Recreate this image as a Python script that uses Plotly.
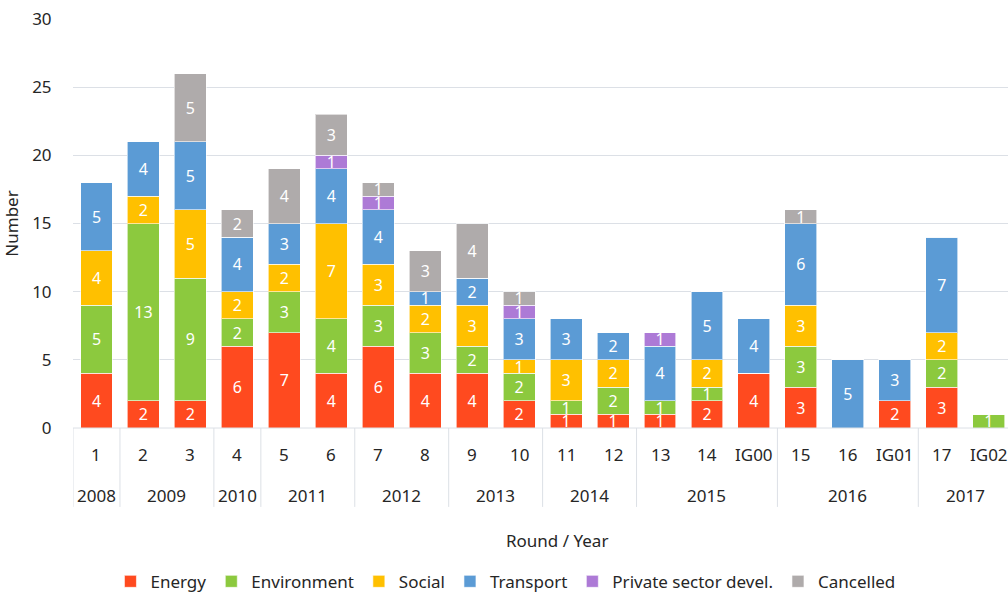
import plotly.graph_objects as go

years = ["2008", "2009", "2009", "2010", "2011", "2011", "2012", "2012", "2013", "2013",
         "2014", "2014", "2015", "2015", "2015", "2016", "2016", "2016", "2017", "2017"]
rounds = ["1", "2", "3", "4", "5", "6", "7", "8", "9", "10",
          "11", "12", "13", "14", "IG00", "15", "16", "IG01", "17", "IG02"]

energy      = [4, 2, 2, 6, 7, 4, 6, 4, 4, 2, 1, 1, 1, 2, 4, 3, 0, 2, 3, 0]
environment = [5, 13, 9, 2, 3, 4, 3, 3, 2, 2, 1, 2, 1, 1, 0, 3, 0, 0, 2, 1]
social      = [4, 2, 5, 2, 2, 7, 3, 2, 3, 1, 3, 2, 0, 2, 0, 3, 0, 0, 2, 0]
transport   = [5, 4, 5, 4, 3, 4, 4, 1, 2, 3, 3, 2, 4, 5, 4, 6, 5, 3, 7, 0]
private     = [0, 0, 0, 0, 0, 1, 1, 0, 0, 1, 0, 0, 1, 0, 0, 0, 0, 0, 0, 0]
cancelled   = [0, 0, 5, 2, 4, 3, 1, 3, 4, 1, 0, 0, 0, 0, 0, 1, 0, 0, 0, 0]

series = [
    ("Energy", energy, "#FF4A1F"),
    ("Environment", environment, "#8CC93E"),
    ("Social", social, "#FFC000"),
    ("Transport", transport, "#5B9BD5"),
    ("Private sector devel.", private, "#AD7AD6"),
    ("Cancelled", cancelled, "#AFABAB"),
]

FONT = "Noto Sans"
TXT = "#262626"
GRID = "#DCE0E6"
xs = list(range(len(rounds)))

fig = go.Figure()
for name, vals, color in series:
    fig.add_trace(go.Bar(
        x=xs, y=vals, name=name,
        marker=dict(color=color, line=dict(color="rgba(255,255,255,0.6)", width=1)),
        text=[str(v) if v else "" for v in vals],
        textposition="inside", insidetextanchor="middle", textangle=0,
        textfont=dict(color="white", size=16, family=FONT),
        constraintext="none",
    ))

annotations = []
for i, r in enumerate(rounds):
    annotations.append(dict(text=r, x=i, y=-0.066, xref="x", yref="paper",
                            xanchor="center", yanchor="middle", showarrow=False,
                            font=dict(size=17, color=TXT)))
groups = []
start = 0
for i in range(1, len(years) + 1):
    if i == len(years) or years[i] != years[start]:
        groups.append((years[start], start, i - 1))
        start = i
shapes = []
for yr, a, b in groups:
    annotations.append(dict(text=yr, x=(a + b) / 2, y=-0.164, xref="x", yref="paper",
                            xanchor="center", yanchor="middle", showarrow=False,
                            font=dict(size=17, color=TXT)))
    shapes.append(dict(type="line", xref="x", yref="paper", x0=a - 0.5, x1=a - 0.5,
                       y0=0, y1=-0.193, line=dict(color=GRID, width=1)))
shapes.append(dict(type="line", xref="paper", yref="paper", x0=0, x1=1, y0=0, y1=0,
                   line=dict(color=GRID, width=1)))

annotations.append(dict(text="Round / Year", x=0.518, y=-0.276, xref="paper", yref="paper",
                        xanchor="center", yanchor="middle", showarrow=False,
                        font=dict(size=17, color=TXT)))

fig.update_layout(
    barmode="stack", bargap=0.32,
    width=1008, height=594,
    margin=dict(l=73, r=0, t=19, b=166, autoexpand=False),
    plot_bgcolor="white", paper_bgcolor="white",
    font=dict(family=FONT, size=17, color=TXT),
    uniformtext=dict(minsize=15, mode="show"),
    showlegend=True,
    legend=dict(orientation="h", x=0.4625, xanchor="center", y=-0.376, yanchor="middle",
                font=dict(size=17, color=TXT), traceorder="normal"),
    xaxis=dict(range=[-0.5, 19.41], showticklabels=False, showgrid=False,
               zeroline=False, showline=False, fixedrange=True),
    yaxis=dict(range=[0, 30], dtick=5, showgrid=True, gridcolor=GRID,
               zeroline=False, tickfont=dict(size=17, color=TXT),
               ticks="outside", ticklen=17, tickcolor="rgba(0,0,0,0)",
               ticklabeloverflow="allow",
               title=dict(text="Number", font=dict(size=17, color=TXT), standoff=13)),
    annotations=annotations,
    shapes=shapes,
)

fig.write_html(
    "out.html",
    config={"displayModeBar": False},
    post_script="document.body.style.margin='0';document.documentElement.style.overflow='hidden';",
)
